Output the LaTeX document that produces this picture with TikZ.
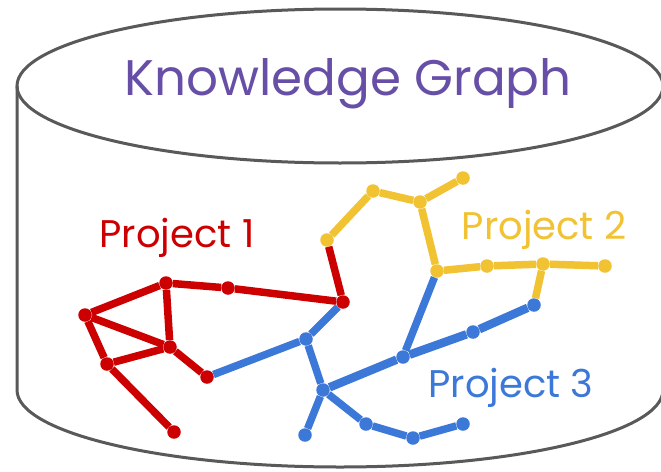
\documentclass[tikz,border=0pt]{standalone}
\usepackage{fontspec}
\setmainfont{Poppins}
\usepackage{tikz}
\definecolor{kgred}{HTML}{CC0000}
\definecolor{kgyellow}{HTML}{F1C232}
\definecolor{kgblue}{HTML}{3C78D8}
\definecolor{kgpurple}{HTML}{674EA7}
\definecolor{kggray}{HTML}{595959}
\tikzstyle{reddot} = [fill=kgred, circle, inner sep=0, minimum size=13.5pt]
\tikzstyle{yellowdot} = [fill=kgyellow, circle, inner sep=0, minimum size=13.5pt]
\tikzstyle{bluedot} = [fill=kgblue, circle, inner sep=0, minimum size=13.5pt]
\tikzstyle{redline} = [draw=kgred, line width=7.5pt]
\tikzstyle{yellowline} = [draw=kgyellow, line width=7.5pt]
\tikzstyle{blueline} = [draw=kgblue, line width=7.5pt]
\tikzstyle{cylline} = [draw=kggray, line width=3pt]
\tikzstyle{label} = [anchor=base, font=\fontsize{38.5}{42}\selectfont]

\begin{document}
\begin{tikzpicture}[x=1pt, y=-1pt]
      \fill[white] (0, 0) rectangle (661, 471);
      \useasboundingbox (0, 0) rectangle (661, 471);
      \draw[cylline] (17, 86) -- (17, 390) arc[start angle=180, end angle=0, x radius=323, y radius=77] -- (663, 86);
      \draw[cylline] (340, 86) ellipse [x radius=323, y radius=77];

      \node[anchor=base, text=kgpurple, font=\fontsize{50}{56}\selectfont] (title) at (348, 95) {Knowledge Graph};
      \node[label, text=kgred] (proj1) at (177, 247) {Project 1};
      \node[label, text=kgyellow] (proj2) at (544, 239) {Project 2};
      \node[label, text=kgblue] (proj3) at (511, 397) {Project 3};

      \node[reddot] (r1) at (85, 315) {};
      \node[reddot] (r2) at (166, 283) {};
      \node[reddot] (r3) at (228, 288) {};
      \node[reddot] (r4) at (343, 302) {};
      \node[reddot] (r5) at (170, 347) {};
      \node[reddot] (r6) at (107, 364) {};
      \node[reddot] (r7) at (207, 377) {};
      \node[reddot] (r8) at (174, 432) {};

      \node[yellowdot] (y1) at (327, 240) {};
      \node[yellowdot] (y2) at (373, 191) {};
      \node[yellowdot] (y3) at (420, 202) {};
      \node[yellowdot] (y4) at (463, 178) {};
      \node[yellowdot] (y5) at (437, 271) {};
      \node[yellowdot] (y6) at (487, 266) {};
      \node[yellowdot] (y7) at (543, 264) {};
      \node[yellowdot] (y8) at (605, 266) {};

      \node[bluedot] (b1) at (306, 339) {};
      \node[bluedot] (b2) at (323, 390) {};
      \node[bluedot] (b3) at (305, 435) {};
      \node[bluedot] (b4) at (534, 305) {};
      \node[bluedot] (b5) at (403, 357) {};
      \node[bluedot] (b6) at (473, 332) {};
      \node[bluedot] (b7) at (366, 424) {};
      \node[bluedot] (b8) at (413, 438) {};
      \node[bluedot] (b9) at (463, 424) {};

      \draw[redline] (r1) -- (r2);
      \draw[redline] (r2) -- (r3);
      \draw[redline] (r3) -- (r4);
      \draw[redline] (r2) -- (r5);
      \draw[redline] (r1) -- (r5);
      \draw[redline] (r1) -- (r6);
      \draw[redline] (r6) -- (r5);
      \draw[redline] (r5) -- (r7);
      \draw[redline] (r6) -- (r8);
      \draw[redline] (r4) -- (y1);

      \draw[yellowline] (y1) -- (y2);
      \draw[yellowline] (y2) -- (y3);
      \draw[yellowline] (y3) -- (y4);
      \draw[yellowline] (y3) -- (y5);
      \draw[yellowline] (y5) -- (y6);
      \draw[yellowline] (y6) -- (y7);
      \draw[yellowline] (y7) -- (y8);
      \draw[yellowline] (y7) -- (b4);

      \draw[blueline] (r7) -- (b1);
      \draw[blueline] (b1) -- (r4);
      \draw[blueline] (b1) -- (b2);
      \draw[blueline] (b2) -- (b3);
      \draw[blueline] (y5) -- (b5);
      \draw[blueline, line width=8.5pt] (b2) -- (b5);
      \draw[blueline, line width=8.5pt] (b5) -- (b6);
      \draw[blueline, line width=8.5pt] (b6) -- (b4);
      \draw[blueline] (b2) -- (b7);
      \draw[blueline] (b7) -- (b8);
      \draw[blueline] (b8) -- (b9);
    \end{tikzpicture}
\end{document}
